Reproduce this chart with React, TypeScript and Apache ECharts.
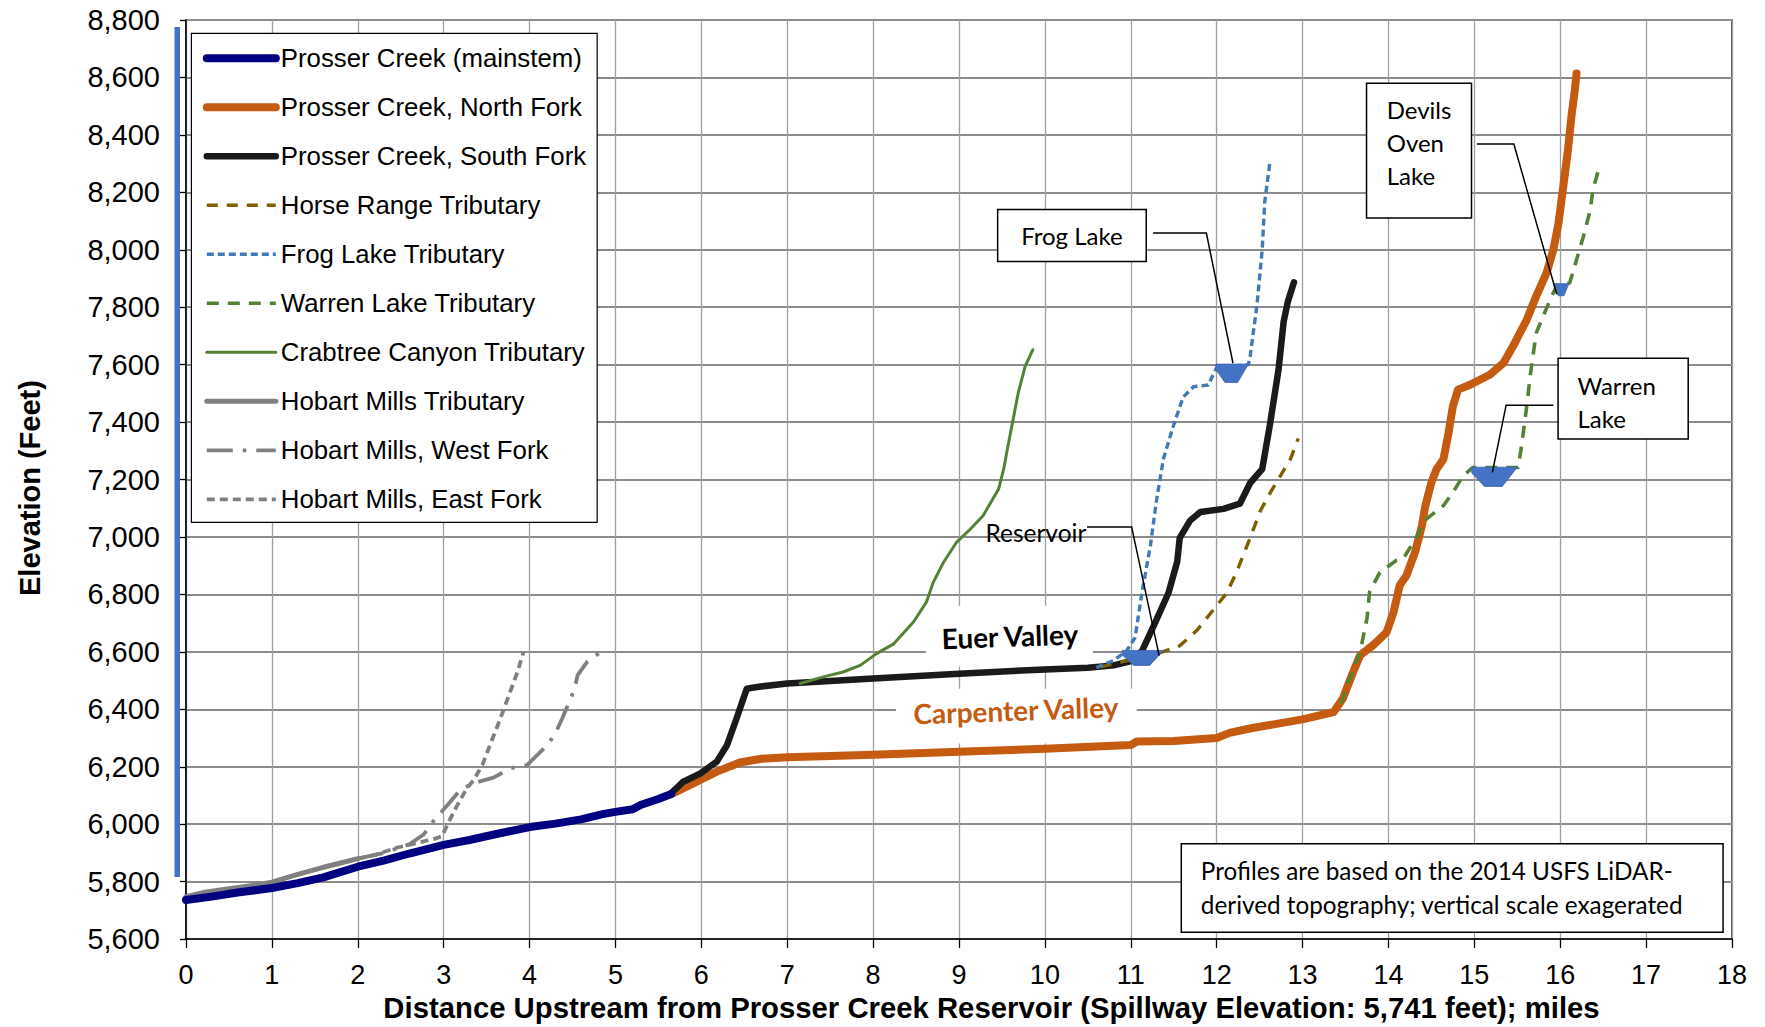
import React, { useEffect, useRef } from 'react';
import * as echarts from 'echarts';

// ---------- axis ----------
const xMin = 0;
const xMax = 18;
const xStep = 1;
const yMin = 5600;
const yMax = 8800;
const yStep = 200;

// ---------- profiles: [miles, elevation ft] ----------
const mainstem: [number, number][] = [
  [0, 5736], [0.3, 5748], [0.6, 5762], [1.0, 5778], [1.3, 5795], [1.6, 5815], [2.0, 5852],
  [2.3, 5873], [2.6, 5898], [3.0, 5928], [3.3, 5945], [3.6, 5965], [4.0, 5990], [4.3, 6002],
  [4.6, 6017], [4.85, 6035], [5.0, 6043], [5.2, 6052], [5.3, 6068], [5.5, 6088], [5.65, 6105],
];
const northFork: [number, number][] = [
  [5.65, 6105], [5.87, 6137], [6.18, 6183], [6.45, 6215], [6.7, 6228], [7.0, 6233], [8.0, 6242],
  [9.0, 6252], [10.0, 6263], [11.0, 6276], [11.07, 6288], [11.5, 6290], [12.0, 6300], [12.15, 6318],
  [12.4, 6334], [13.0, 6365], [13.36, 6390], [13.47, 6438], [13.59, 6531], [13.67, 6588],
  [13.82, 6623], [13.98, 6669], [14.06, 6739], [14.13, 6831], [14.21, 6866], [14.31, 6947],
  [14.39, 7039], [14.43, 7109], [14.5, 7190], [14.56, 7236], [14.64, 7271], [14.7, 7363],
  [14.75, 7455], [14.81, 7513], [14.95, 7530], [15.18, 7565], [15.34, 7606], [15.45, 7664],
  [15.61, 7756], [15.72, 7838], [15.84, 7919], [15.92, 8000], [15.98, 8092], [16.03, 8208],
  [16.09, 8347], [16.13, 8463], [16.17, 8556], [16.19, 8614],
];
const southFork: [number, number][] = [
  [5.65, 6108], [5.79, 6148], [5.99, 6177], [6.18, 6218], [6.3, 6276], [6.41, 6368], [6.49, 6438],
  [6.53, 6472], [6.65, 6478], [7.0, 6490], [8.0, 6507], [9.0, 6524], [10.0, 6539], [10.5, 6545],
  [10.8, 6553], [10.99, 6567], [11.13, 6603], [11.26, 6686], [11.44, 6806], [11.54, 6913],
  [11.57, 6997], [11.69, 7057], [11.81, 7087], [12.08, 7098], [12.27, 7116], [12.39, 7188],
  [12.53, 7236], [12.62, 7391], [12.72, 7582], [12.78, 7750], [12.83, 7821], [12.9, 7887],
];
const horseRange: [number, number][] = [
  [10.65, 6548], [10.9, 6565], [11.34, 6597], [11.57, 6621], [11.77, 6675], [11.96, 6746],
  [12.12, 6806], [12.23, 6877], [12.39, 6997], [12.51, 7092], [12.62, 7152], [12.74, 7212],
  [12.86, 7272], [12.95, 7343],
];
const frogLake: [number, number][] = [
  [10.6, 6545], [10.8, 6570], [10.95, 6603], [11.05, 6650], [11.13, 6806], [11.23, 6973],
  [11.3, 7128], [11.38, 7272], [11.5, 7391], [11.61, 7487], [11.73, 7523], [11.9, 7529],
  [12.0, 7590], [12.37, 7600], [12.39, 7630], [12.47, 7809], [12.53, 8000], [12.56, 8168],
  [12.62, 8305],
];
const warrenLake: [number, number][] = [
  [13.45, 6420], [13.55, 6508], [13.67, 6600], [13.75, 6716], [13.78, 6808], [13.9, 6877],
  [14.09, 6918], [14.17, 6924], [14.29, 6981], [14.44, 7062], [14.64, 7109], [14.75, 7155],
  [14.87, 7213], [14.98, 7242], [15.51, 7242], [15.55, 7317], [15.61, 7455], [15.65, 7560],
  [15.72, 7710], [15.8, 7768], [15.9, 7838], [15.96, 7875], [16.11, 7884], [16.19, 7965],
  [16.27, 8046], [16.35, 8139], [16.38, 8208], [16.44, 8272],
];
const crabtree: [number, number][] = [
  [7.15, 6490], [7.42, 6513], [7.65, 6530], [7.85, 6553], [8.04, 6594], [8.24, 6628], [8.47, 6704],
  [8.62, 6773], [8.7, 6842], [8.82, 6912], [8.97, 6981], [9.13, 7027], [9.28, 7074], [9.46, 7166],
  [9.52, 7236], [9.57, 7317], [9.63, 7409], [9.69, 7502], [9.77, 7594], [9.86, 7652],
];
const hobartMills: [number, number][] = [
  [0, 5748], [0.2, 5762], [0.5, 5775], [0.8, 5788], [1.0, 5798], [1.3, 5825], [1.6, 5850],
  [1.8, 5865], [2.0, 5880],
];
const hobartWest: [number, number][] = [
  [2.0, 5880], [2.3, 5900], [2.6, 5930], [2.77, 5965], [2.87, 6007], [3.08, 6079], [3.19, 6119],
  [3.35, 6143], [3.58, 6162], [3.78, 6195], [3.97, 6206], [4.21, 6276], [4.3, 6316], [4.38, 6368],
  [4.52, 6467], [4.56, 6519], [4.67, 6565], [4.83, 6600],
];
const hobartEast: [number, number][] = [
  [2.0, 5880], [2.2, 5893], [2.45, 5918], [2.7, 5935], [2.9, 5950], [2.98, 5958], [3.06, 6009],
  [3.16, 6067], [3.27, 6125], [3.35, 6154], [3.45, 6206], [3.54, 6276], [3.66, 6368], [3.76, 6449],
  [3.86, 6531], [3.93, 6600],
];

const legendNames = [
  'Prosser Creek (mainstem)',
  'Prosser Creek, North Fork',
  'Prosser Creek, South Fork',
  'Horse Range Tributary',
  'Frog Lake Tributary',
  'Warren Lake Tributary',
  'Crabtree Canyon Tributary',
  'Hobart Mills Tributary',
  'Hobart Mills, West Fork',
  'Hobart Mills, East Fork',
];

// ---------- annotations (data coordinates) ----------
// lakes: [x left, x right, top elevation, bottom elevation]
const lakeSpans: number[][] = [
  [10.9, 11.38, 6605, 6553],
  [11.99, 12.37, 7602, 7538],
  [14.97, 15.5, 7243, 7176],
  [15.93, 16.1, 7882, 7840],
];
// leader lines from callouts to lakes
const leaderLines: number[][][] = [
  [[10.49, 7035], [11.01, 7035], [11.33, 6587]],
  [[11.26, 8058], [11.88, 8058], [12.19, 7605]],
  [[15.03, 8368], [15.46, 8368], [15.96, 7845]],
  [[15.92, 7459], [15.37, 7459], [15.21, 7225]],
];
// bordered callout boxes: [x left, x right, top, bottom]
const calloutBoxes: number[][] = [
  [9.45, 11.18, 8140, 7959],
  [13.745, 14.967, 8580, 8111],
  [15.975, 17.49, 7622, 7341],
  [11.588, 17.896, 5932, 5624],
];
const calloutTexts = [
  'Frog Lake',
  'Devils\nOven\nLake',
  'Warren\nLake',
  'Profiles are based on the 2014 USFS LiDAR-\nderived topography; vertical scale exagerated',
];
const calloutTextAt: number[][] = [
  [10.315, 8050],
  [13.98, 8373],
  [16.2, 7470],
  [11.816, 5779],
];
const calloutAlign = ['center', 'left', 'left', 'left'];
const calloutFontSize = [24, 24, 24, 24.3];
// valley labels with white backing
const valleyTexts = ['Euer Valley', 'Carpenter Valley'];
const valleyColors = ['#000000', '#C55A11'];
const valleyBoxes: number[][] = [
  [8.615, 10.559, 6761, 6549],
  [8.265, 11.07, 6472, 6281],
];
const valleyTextAt: number[][] = [
  [9.593, 6656],
  [9.662, 6398],
];
const reservoirText = 'Reservoir';
const reservoirTextAt = [9.895, 7014];

const AXIS_FONT = 'Liberation Sans, Arial, sans-serif';
const NOTE_FONT = 'Lato, Open Sans, sans-serif';

function lineSeries(name: string, data: [number, number][], color: string, width: number, type: any, z: number) {
  const dashed = Array.isArray(type);
  return {
    name,
    type: 'line',
    data,
    symbol: 'none',
    showSymbol: false,
    silent: true,
    z,
    itemStyle: { color },
    lineStyle: { color, width, type, cap: dashed ? 'butt' : 'round', join: 'round' },
    emphasis: { disabled: true },
  };
}

export default function App() {
  const ref = useRef<HTMLDivElement>(null);
  useEffect(() => {
    document.body.style.margin = '0';
    const chart = echarts.init(ref.current!, null, { renderer: 'svg' });

    const option: any = {
      animation: false,
      backgroundColor: '#ffffff',
      grid: { left: 186, right: 33, top: 20, bottom: 86, show: true, borderColor: '#000', borderWidth: 1.3 },
      legend: {
        data: legendNames,
        orient: 'vertical',
        left: 191.4,
        top: 33.3,
        padding: [11, 11, 9, 11.4],
        itemWidth: 69,
        itemHeight: 14,
        itemGap: 21,
        selectedMode: false,
        backgroundColor: '#ffffff',
        borderColor: '#000',
        borderWidth: 1.2,
        borderRadius: 0,
        itemStyle: { opacity: 0, borderWidth: 0 },
        lineStyle: { width: 'inherit', type: 'inherit', cap: 'inherit' },
        textStyle: { fontFamily: AXIS_FONT, fontSize: 25.8, color: '#000', lineHeight: 28 },
      },
      xAxis: {
        type: 'value',
        min: xMin,
        max: xMax,
        interval: xStep,
        name: 'Distance Upstream from Prosser Creek Reservoir (Spillway Elevation: 5,741 feet); miles',
        nameLocation: 'middle',
        nameGap: 53,
        nameTextStyle: { fontFamily: AXIS_FONT, fontSize: 29.3, fontWeight: 'bold', color: '#000', padding: [0, 0, 0, 65] },
        axisLine: { onZero: false, lineStyle: { color: '#000', width: 1.5 } },
        axisTick: { length: 9, lineStyle: { color: '#000', width: 1.3 } },
        axisLabel: { fontFamily: AXIS_FONT, fontSize: 27, color: '#000', margin: 22 },
        splitLine: { show: true, lineStyle: { color: '#9E9E9E', width: 1.3 } },
      },
      yAxis: {
        type: 'value',
        min: yMin,
        max: yMax,
        interval: yStep,
        name: 'Elevation (Feet)',
        nameLocation: 'middle',
        nameGap: 142,
        nameRotate: 90,
        nameTextStyle: { fontFamily: AXIS_FONT, fontSize: 29, fontWeight: 'bold', color: '#000', padding: [0, 17, 0, 0] },
        axisLine: { show: true, lineStyle: { color: '#000', width: 1.5 } },
        axisTick: { show: true, length: 6, lineStyle: { color: '#000', width: 1.3 } },
        axisLabel: {
          fontFamily: AXIS_FONT,
          fontSize: 29,
          color: '#000',
          margin: 26,
          formatter: (v: number) => v.toLocaleString('en-US'),
        },
        splitLine: { show: true, lineStyle: { color: '#8C8C8C', width: 2 } },
      },
      graphic: [
        { type: 'rect', left: 174.5, top: 27, shape: { width: 5.5, height: 850 }, style: { fill: '#4472C4' }, z: 5 },
      ],
      series: [
        {
          name: 'valleyLabels',
          type: 'custom',
          z: 1,
          silent: true,
          data: valleyBoxes.map((b, i) => [b[0], b[2], i]),
          encode: { x: 0, y: 1 },
          renderItem: (_p: any, api: any) => {
            const i = api.value(2) as number;
            const b = valleyBoxes[i];
            const a = api.coord([b[0], b[2]]);
            const c = api.coord([b[1], b[3]]);
            const t = api.coord(valleyTextAt[i]);
            return {
              type: 'group',
              children: [
                { type: 'rect', shape: { x: a[0], y: a[1], width: c[0] - a[0], height: c[1] - a[1] }, style: { fill: '#ffffff' } },
                {
                  type: 'text',
                  x: t[0],
                  y: t[1],
                  rotation: (2 * Math.PI) / 180,
                  style: {
                    text: valleyTexts[i],
                    fill: valleyColors[i],
                    fontFamily: NOTE_FONT,
                    fontWeight: 'bold',
                    fontSize: 28,
                    align: 'center',
                    verticalAlign: 'middle',
                  },
                },
              ],
            };
          },
        },
        lineSeries('Hobart Mills Tributary', hobartMills, '#808080', 5, 'solid', 2),
        lineSeries('Hobart Mills, West Fork', hobartWest, '#808080', 3.8, [26, 10, 3.5, 10], 2),
        lineSeries('Hobart Mills, East Fork', hobartEast, '#808080', 3.8, [8, 5], 2),
        lineSeries('Prosser Creek, North Fork', northFork, '#C55A11', 8, 'solid', 3),
        lineSeries('Prosser Creek, South Fork', southFork, '#1A1A1A', 6.5, 'solid', 3),
        lineSeries('Prosser Creek (mainstem)', mainstem, '#000080', 8, 'solid', 3),
        lineSeries('Crabtree Canyon Tributary', crabtree, '#548235', 3, 'solid', 4),
        lineSeries('Horse Range Tributary', horseRange, '#7F6000', 3.4, [11, 9], 4),
        lineSeries('Frog Lake Tributary', frogLake, '#4279B8', 3.4, [7, 4], 4),
        lineSeries('Warren Lake Tributary', warrenLake, '#548235', 3.6, [12, 9], 4),
        {
          name: 'lakes',
          type: 'custom',
          z: 6,
          silent: true,
          data: lakeSpans.map((s, i) => [(s[0] + s[1]) / 2, s[2], i]),
          encode: { x: 0, y: 1 },
          renderItem: (_p: any, api: any) => {
            const s = lakeSpans[api.value(2) as number];
            const a = api.coord([s[0], s[2]]);
            const c = api.coord([s[1], s[3]]);
            const w = c[0] - a[0];
            const h = c[1] - a[1];
            return {
              type: 'polygon',
              shape: {
                points: [
                  [a[0], a[1]],
                  [c[0], a[1]],
                  [c[0] - 0.33 * w, c[1]],
                  [a[0] + 0.28 * w, c[1]],
                  [a[0], a[1] + 0.3 * h],
                ],
              },
              style: { fill: '#4472C4', stroke: '#3E66B0', lineWidth: 0.8 },
            };
          },
        },
        {
          name: 'callouts',
          type: 'custom',
          z: 7,
          silent: true,
          data: calloutBoxes.map((b, i) => [b[0], b[2], i]),
          encode: { x: 0, y: 1 },
          renderItem: (_p: any, api: any) => {
            const i = api.value(2) as number;
            const b = calloutBoxes[i];
            const a = api.coord([b[0], b[2]]);
            const c = api.coord([b[1], b[3]]);
            const t = api.coord(calloutTextAt[i]);
            return {
              type: 'group',
              children: [
                { type: 'rect', shape: { x: a[0], y: a[1], width: c[0] - a[0], height: c[1] - a[1] }, style: { fill: '#ffffff', stroke: '#000', lineWidth: 1.5 } },
                {
                  type: 'text',
                  x: t[0],
                  y: t[1],
                  style: {
                    text: calloutTexts[i],
                    fill: '#000',
                    fontFamily: NOTE_FONT,
                    fontSize: calloutFontSize[i],
                    lineHeight: i === 3 ? 33.5 : 33,
                    align: calloutAlign[i],
                    verticalAlign: 'middle',
                  },
                },
              ],
            };
          },
        },
        {
          name: 'leaders',
          type: 'custom',
          z: 8,
          silent: true,
          data: leaderLines.map((l, i) => [l[0][0], l[0][1], i]),
          encode: { x: 0, y: 1 },
          renderItem: (_p: any, api: any) => {
            const l = leaderLines[api.value(2) as number];
            return {
              type: 'polyline',
              shape: { points: l.map((p) => api.coord(p)) },
              style: { stroke: '#000', lineWidth: 1.5, fill: 'none' },
            };
          },
        },
        {
          name: 'reservoirLabel',
          type: 'custom',
          z: 8,
          silent: true,
          data: [[reservoirTextAt[0], reservoirTextAt[1]]],
          encode: { x: 0, y: 1 },
          renderItem: (_p: any, api: any) => {
            const t = api.coord(reservoirTextAt);
            return {
              type: 'text',
              x: t[0],
              y: t[1],
              style: { text: reservoirText, fill: '#000', fontFamily: NOTE_FONT, fontSize: 24.5, align: 'center', verticalAlign: 'middle' },
            };
          },
        },
      ],
    };

    chart.setOption(option);
    return () => chart.dispose();
  }, []);
  return <div ref={ref} style={{ width: 1765, height: 1027 }} />;
}
